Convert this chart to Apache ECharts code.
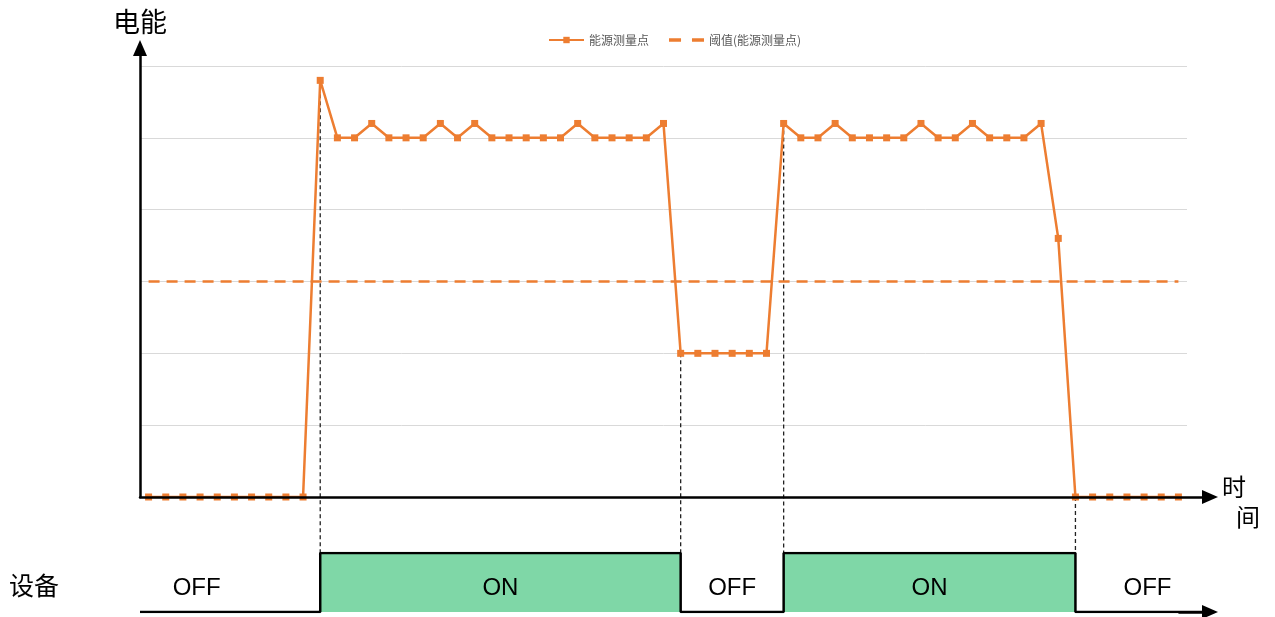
<!DOCTYPE html>
<html><head><meta charset="utf-8">
<script src="https://cdn.jsdelivr.net/npm/echarts@6/dist/echarts.min.js"></script>
<style>html,body{margin:0;padding:0;background:#fff}#c{width:1275px;height:617px}</style>
</head><body><div id="c"></div>
<script>
// ---- data ----
const TIME_POINTS = Array.from({length: 61}, (_, i) => 'T' + (i + 1));
const ENERGY = [
  0, 0, 0, 0, 0, 0, 0, 0, 0, 0,
  5.8, 5, 5, 5.2, 5, 5, 5, 5.2, 5, 5.2, 5, 5, 5, 5, 5, 5.2, 5, 5, 5, 5, 5.2,
  2, 2, 2, 2, 2, 2,
  5.2, 5, 5, 5.2, 5, 5, 5, 5, 5.2, 5, 5, 5.2, 5, 5, 5, 5.2,
  3.6,
  0, 0, 0, 0, 0, 0, 0
];
const THRESHOLD = [
  3, 3, 3, 3, 3, 3, 3, 3, 3, 3,
  3, 3, 3, 3, 3, 3, 3, 3, 3, 3,
  3, 3, 3, 3, 3, 3, 3, 3, 3, 3,
  3, 3, 3, 3, 3, 3, 3, 3, 3, 3,
  3, 3, 3, 3, 3, 3, 3, 3, 3, 3,
  3, 3, 3, 3, 3, 3, 3, 3, 3, 3,
  3
];
const DEVICE_STATE = [
  0, 0, 0, 0, 0, 0, 0, 0, 0, 0,
  1, 1, 1, 1, 1, 1, 1, 1, 1, 1, 1, 1, 1, 1, 1, 1, 1, 1, 1, 1, 1,
  0, 0, 0, 0, 0, 0,
  1, 1, 1, 1, 1, 1, 1, 1, 1, 1, 1, 1, 1, 1, 1, 1, 1,
  0, 0, 0, 0, 0, 0, 0
];
const DEVICE_LABELS = ['OFF', 'ON', 'OFF', 'ON', 'OFF'];
const DEVICE_LABEL_X = [2.8, 20.5, 34, 45.5, 58.2];
const SERIES_NAMES = ['能源测量点', '阈值(能源测量点)'];
const Y_MAX = 6;
const DEVICE_AXIS_START = -0.5;
const DEVICE_AXIS_END = 61.84;

// ---- derived ----
const SWITCHES = [];
for (let i = 1; i < DEVICE_STATE.length; i++) {
  if (DEVICE_STATE[i] !== DEVICE_STATE[i - 1]) SWITCHES.push([i, ENERGY[i]]);
}
const deviceLine = [[DEVICE_AXIS_START, DEVICE_STATE[0]]]
  .concat(DEVICE_STATE.map((s, i) => [i, s]))
  .concat([[DEVICE_AXIS_END, DEVICE_STATE[DEVICE_STATE.length - 1]]]);

const ORANGE = '#ED7D31';
const CJK = '"Noto Sans CJK SC", "Microsoft YaHei", sans-serif';
const chart = echarts.init(document.getElementById('c'));

const hiddenAxis = {
  axisLine: {show: false}, axisTick: {show: false}, axisLabel: {show: false}, splitLine: {show: false}
};
const arrowLine = {
  show: true, onZero: false, symbol: ['none', 'triangle'], symbolSize: [14, 16],
  lineStyle: {color: '#000', width: 2.5}
};

chart.setOption({
  animation: false,
  backgroundColor: '#fff',
  legend: {
    data: [
      {name: SERIES_NAMES[0]},
      {name: SERIES_NAMES[1], icon: 'path://M0,0h11v3h-11zM21,0h11v3h-11z'}
    ],
    left: 548, top: 34, padding: 0,
    itemWidth: 35, itemHeight: 8, itemGap: 20,
    textStyle: {fontSize: 12, color: '#595959', fontFamily: CJK}
  },
  grid: [
    {left: 140, right: 88, top: 66, bottom: 120},
    {left: 140, right: 65, top: 48, bottom: 120},
    {left: 140, right: 65, top: 553, bottom: 5}
  ],
  xAxis: [
    Object.assign({gridIndex: 0, type: 'category', data: TIME_POINTS, boundaryGap: true}, hiddenAxis),
    Object.assign({}, hiddenAxis, {gridIndex: 1, type: 'value', min: 0, max: 1, axisLine: arrowLine, z: 10}),
    Object.assign({gridIndex: 2, type: 'value', min: DEVICE_AXIS_START, max: DEVICE_AXIS_END}, hiddenAxis)
  ],
  yAxis: [
    Object.assign({}, hiddenAxis, {gridIndex: 0, type: 'value', min: 0, max: Y_MAX, interval: 1,
      splitLine: {show: true, lineStyle: {color: '#d9d9d9', width: 1}}}),
    Object.assign({}, hiddenAxis, {gridIndex: 1, type: 'value', min: 0, max: 1, axisLine: arrowLine, z: 10,
      name: '电能', nameLocation: 'end', nameGap: 13,
      nameTextStyle: {fontSize: 27, color: '#000', fontFamily: CJK}}),
    Object.assign({gridIndex: 2, type: 'value', min: 0, max: 1}, hiddenAxis)
  ],
  graphic: [
    {type: 'text', left: 9, top: 573, style: {text: '设备', font: '25px ' + CJK, fill: '#000'}},
    {type: 'text', left: 1222, top: 475, style: {text: '时', font: '24px ' + CJK, fill: '#000'}},
    {type: 'text', left: 1236, top: 505, style: {text: '间', font: '24px ' + CJK, fill: '#000'}}
  ],
  series: [
    {
      name: 'switch-guides', type: 'custom', xAxisIndex: 0, yAxisIndex: 0, clip: false, z: 1, silent: true,
      data: SWITCHES,
      renderItem: function (params, api) {
        const top = api.coord([api.value(0), api.value(1)]);
        let bottomY = top[1];
        try {
          const b = chart.convertToPixel({xAxisIndex: 2, yAxisIndex: 2}, [api.value(0), 1]);
          bottomY = b[1];
        } catch (e) {}
        return {
          type: 'line',
          shape: {x1: top[0], y1: top[1], x2: top[0], y2: bottomY},
          style: {stroke: '#222', lineWidth: 1.3, lineDash: [4, 3]}
        };
      }
    },
    {
      name: SERIES_NAMES[1], type: 'line', xAxisIndex: 0, yAxisIndex: 0, data: THRESHOLD,
      symbol: 'none', z: 3,
      lineStyle: {color: ORANGE, width: 2.5, type: [11, 7]},
      itemStyle: {color: ORANGE}
    },
    {
      name: SERIES_NAMES[0], type: 'line', xAxisIndex: 0, yAxisIndex: 0, data: ENERGY,
      symbol: 'rect', symbolSize: 7, showAllSymbol: true, z: 4,
      lineStyle: {color: ORANGE, width: 2.5},
      itemStyle: {color: ORANGE}
    },
    {
      name: 'device', type: 'line', xAxisIndex: 2, yAxisIndex: 2, data: deviceLine,
      step: 'end', symbol: 'none', z: 2, silent: true,
      lineStyle: {color: '#000', width: 2.5},
      areaStyle: {color: '#7fd7a7', opacity: 1},
      markLine: {
        silent: true, symbol: ['none', 'triangle'], symbolSize: [14, 16],
        label: {show: false}, lineStyle: {color: '#000', width: 2.5, type: 'solid'},
        data: [[{coord: [DEVICE_STATE.length - 1, 0]}, {coord: [DEVICE_AXIS_END, 0]}]]
      }
    },
    {
      name: 'device-labels', type: 'custom', xAxisIndex: 2, yAxisIndex: 2, silent: true, z: 5,
      data: DEVICE_LABEL_X.map(x => [x, 0.4]),
      renderItem: function (params, api) {
        const p = api.coord([api.value(0), api.value(1)]);
        return {
          type: 'text', x: p[0], y: p[1],
          style: {text: DEVICE_LABELS[params.dataIndex], fill: '#000',
            font: '24px "Liberation Sans", Arial, sans-serif', align: 'center', verticalAlign: 'middle'}
        };
      }
    }
  ]
});
</script>
</body></html>
